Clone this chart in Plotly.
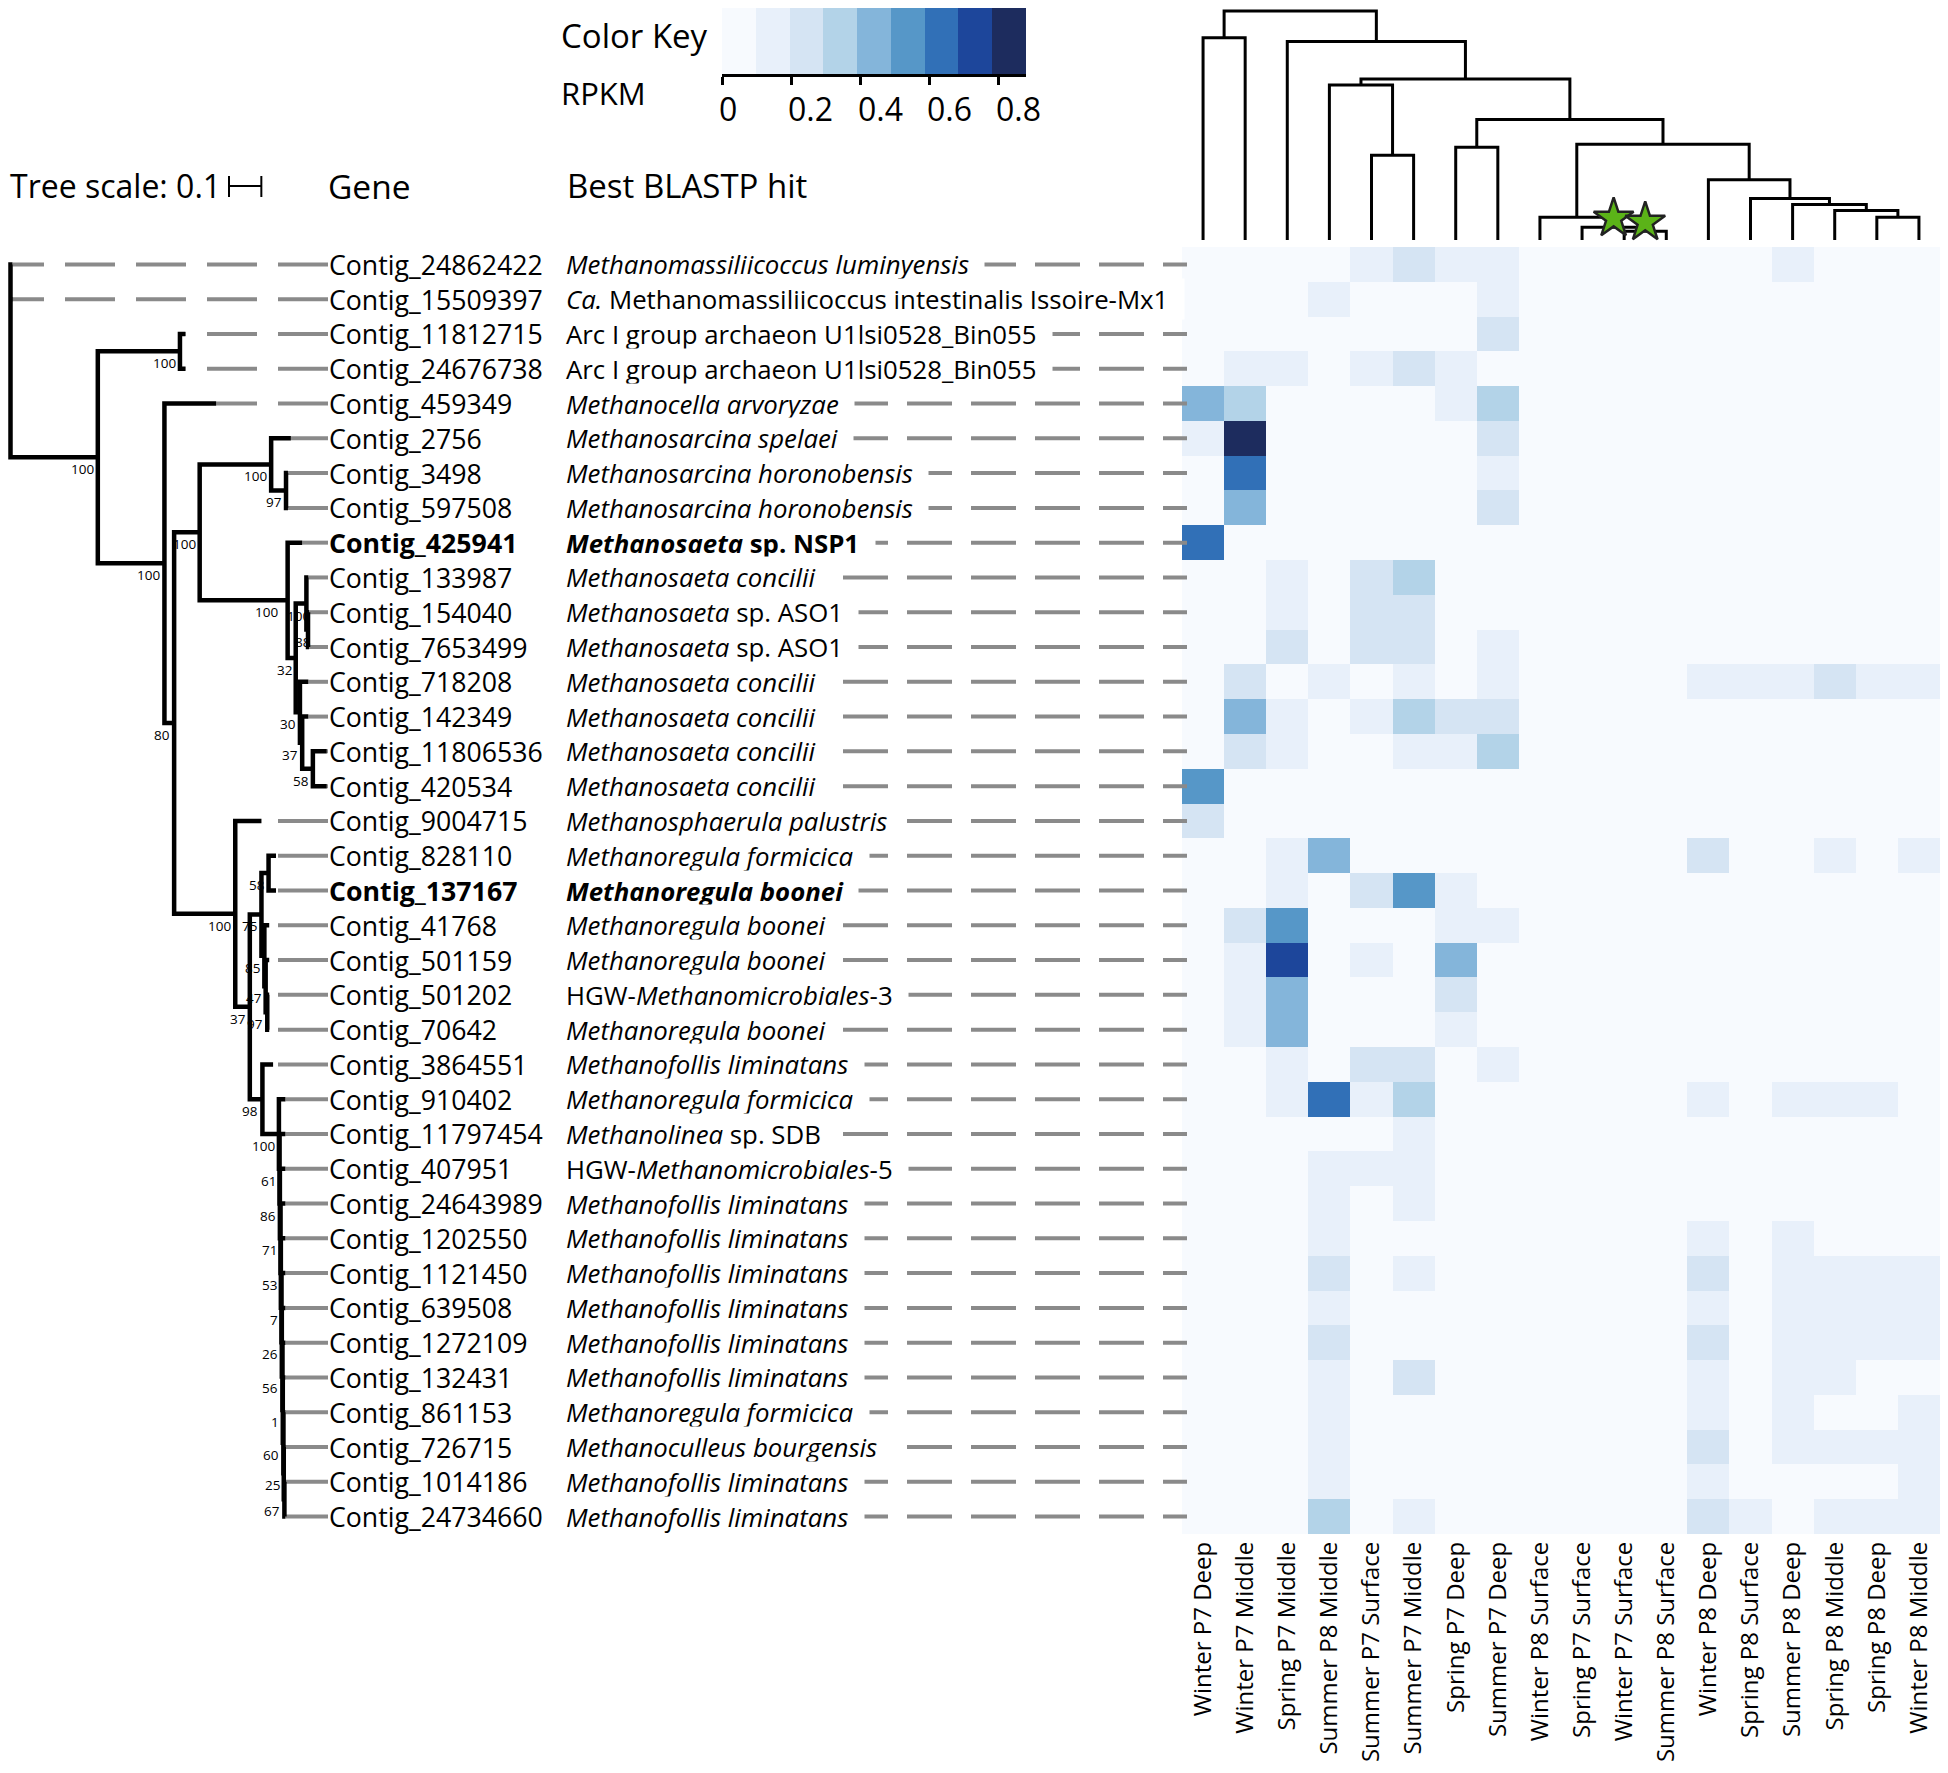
import plotly.graph_objects as go

# page has an 8px body margin -> figure is 16px smaller than the window
OFF = 8
FW, FH = 1932, 1757
FONT = "Open Sans"

# ---------------- data ----------------
samples = ["Winter P7 Deep", "Winter P7 Middle", "Spring P7 Middle", "Summer P8 Middle",
           "Summer P7 Surface", "Summer P7 Middle", "Spring P7 Deep", "Summer P7 Deep",
           "Winter P8 Surface", "Spring P7 Surface", "Winter P7 Surface", "Summer P8 Surface",
           "Winter P8 Deep", "Spring P8 Surface", "Summer P8 Deep", "Spring P8 Middle",
           "Spring P8 Deep", "Winter P8 Middle"]

genes = ["Contig_24862422", "Contig_15509397", "Contig_11812715", "Contig_24676738",
         "Contig_459349", "Contig_2756", "Contig_3498", "Contig_597508", "Contig_425941",
         "Contig_133987", "Contig_154040", "Contig_7653499", "Contig_718208", "Contig_142349",
         "Contig_11806536", "Contig_420534", "Contig_9004715", "Contig_828110", "Contig_137167",
         "Contig_41768", "Contig_501159", "Contig_501202", "Contig_70642", "Contig_3864551",
         "Contig_910402", "Contig_11797454", "Contig_407951", "Contig_24643989", "Contig_1202550",
         "Contig_1121450", "Contig_639508", "Contig_1272109", "Contig_132431", "Contig_861153",
         "Contig_726715", "Contig_1014186", "Contig_24734660"]

best_hits = ["<i>Methanomassiliicoccus luminyensis</i>",
             "<i>Ca.</i> Methanomassiliicoccus intestinalis Issoire-Mx1",
             "Arc I group archaeon U1lsi0528_Bin055",
             "Arc I group archaeon U1lsi0528_Bin055",
             "<i>Methanocella arvoryzae</i>",
             "<i>Methanosarcina spelaei</i>",
             "<i>Methanosarcina horonobensis</i>",
             "<i>Methanosarcina horonobensis</i>",
             "<i>Methanosaeta</i> sp. NSP1",
             "<i>Methanosaeta concilii</i>",
             "<i>Methanosaeta</i> sp. ASO1",
             "<i>Methanosaeta</i> sp. ASO1",
             "<i>Methanosaeta concilii</i>",
             "<i>Methanosaeta concilii</i>",
             "<i>Methanosaeta concilii</i>",
             "<i>Methanosaeta concilii</i>",
             "<i>Methanosphaerula palustris</i>",
             "<i>Methanoregula formicica</i>",
             "<i>Methanoregula boonei</i>",
             "<i>Methanoregula boonei</i>",
             "<i>Methanoregula boonei</i>",
             "HGW-<i>Methanomicrobiales</i>-3",
             "<i>Methanoregula boonei</i>",
             "<i>Methanofollis liminatans</i>",
             "<i>Methanoregula formicica</i>",
             "<i>Methanolinea</i> sp. SDB",
             "HGW-<i>Methanomicrobiales</i>-5",
             "<i>Methanofollis liminatans</i>",
             "<i>Methanofollis liminatans</i>",
             "<i>Methanofollis liminatans</i>",
             "<i>Methanofollis liminatans</i>",
             "<i>Methanofollis liminatans</i>",
             "<i>Methanofollis liminatans</i>",
             "<i>Methanoregula formicica</i>",
             "<i>Methanoculleus bourgensis</i>",
             "<i>Methanofollis liminatans</i>",
             "<i>Methanofollis liminatans</i>"]

bold_genes = ["Contig_425941", "Contig_137167"]
no_leader_genes = ["Contig_15509397"]

# RPKM per gene (rows) x sample (columns)
rpkm = [
    [0, 0, 0, 0, .14, .24, .14, .14, 0, 0, 0, 0, 0, 0, .14, 0, 0, 0],
    [0, 0, 0, .14, 0, 0, 0, .14, 0, 0, 0, 0, 0, 0, 0, 0, 0, 0],
    [0, 0, 0, 0, 0, 0, 0, .24, 0, 0, 0, 0, 0, 0, 0, 0, 0, 0],
    [0, .14, .14, 0, .14, .24, .14, 0, 0, 0, 0, 0, 0, 0, 0, 0, 0, 0],
    [.44, .34, 0, 0, 0, 0, .14, .34, 0, 0, 0, 0, 0, 0, 0, 0, 0, 0],
    [.14, .83, 0, 0, 0, 0, 0, .24, 0, 0, 0, 0, 0, 0, 0, 0, 0, 0],
    [0, .63, 0, 0, 0, 0, 0, .14, 0, 0, 0, 0, 0, 0, 0, 0, 0, 0],
    [0, .44, 0, 0, 0, 0, 0, .24, 0, 0, 0, 0, 0, 0, 0, 0, 0, 0],
    [.63, 0, 0, 0, 0, 0, 0, 0, 0, 0, 0, 0, 0, 0, 0, 0, 0, 0],
    [0, 0, .14, 0, .24, .34, 0, 0, 0, 0, 0, 0, 0, 0, 0, 0, 0, 0],
    [0, 0, .14, 0, .24, .24, 0, 0, 0, 0, 0, 0, 0, 0, 0, 0, 0, 0],
    [0, 0, .24, 0, .24, .24, 0, .14, 0, 0, 0, 0, 0, 0, 0, 0, 0, 0],
    [0, .24, 0, .14, 0, .14, 0, .14, 0, 0, 0, 0, .14, .14, .14, .24, .14, .14],
    [0, .44, .14, 0, .14, .34, .24, .24, 0, 0, 0, 0, 0, 0, 0, 0, 0, 0],
    [0, .24, .14, 0, 0, .14, .14, .34, 0, 0, 0, 0, 0, 0, 0, 0, 0, 0],
    [.54, 0, 0, 0, 0, 0, 0, 0, 0, 0, 0, 0, 0, 0, 0, 0, 0, 0],
    [.24, 0, 0, 0, 0, 0, 0, 0, 0, 0, 0, 0, 0, 0, 0, 0, 0, 0],
    [0, 0, .14, .44, 0, 0, 0, 0, 0, 0, 0, 0, .24, 0, 0, .14, 0, .14],
    [0, 0, .14, 0, .24, .54, .14, 0, 0, 0, 0, 0, 0, 0, 0, 0, 0, 0],
    [0, .24, .54, 0, 0, 0, .14, .14, 0, 0, 0, 0, 0, 0, 0, 0, 0, 0],
    [0, .14, .73, 0, .14, 0, .44, 0, 0, 0, 0, 0, 0, 0, 0, 0, 0, 0],
    [0, .14, .44, 0, 0, 0, .24, 0, 0, 0, 0, 0, 0, 0, 0, 0, 0, 0],
    [0, .14, .44, 0, 0, 0, .14, 0, 0, 0, 0, 0, 0, 0, 0, 0, 0, 0],
    [0, 0, .14, 0, .24, .24, 0, .14, 0, 0, 0, 0, 0, 0, 0, 0, 0, 0],
    [0, 0, .14, .63, .14, .34, 0, 0, 0, 0, 0, 0, .14, 0, .14, .14, .14, 0],
    [0, 0, 0, 0, 0, .14, 0, 0, 0, 0, 0, 0, 0, 0, 0, 0, 0, 0],
    [0, 0, 0, .14, .14, .14, 0, 0, 0, 0, 0, 0, 0, 0, 0, 0, 0, 0],
    [0, 0, 0, .14, 0, .14, 0, 0, 0, 0, 0, 0, 0, 0, 0, 0, 0, 0],
    [0, 0, 0, .14, 0, 0, 0, 0, 0, 0, 0, 0, .14, 0, .14, 0, 0, 0],
    [0, 0, 0, .24, 0, .14, 0, 0, 0, 0, 0, 0, .24, 0, .14, .14, .14, .14],
    [0, 0, 0, .14, 0, 0, 0, 0, 0, 0, 0, 0, .14, 0, .14, .14, .14, .14],
    [0, 0, 0, .24, 0, 0, 0, 0, 0, 0, 0, 0, .24, 0, .14, .14, .14, .14],
    [0, 0, 0, .14, 0, .24, 0, 0, 0, 0, 0, 0, .14, 0, .14, .14, 0, 0],
    [0, 0, 0, .14, 0, 0, 0, 0, 0, 0, 0, 0, .14, 0, .14, 0, 0, .14],
    [0, 0, 0, .14, 0, 0, 0, 0, 0, 0, 0, 0, .24, 0, .14, .14, .14, .14],
    [0, 0, 0, .14, 0, 0, 0, 0, 0, 0, 0, 0, .14, 0, 0, 0, 0, .14],
    [0, 0, 0, .34, 0, .14, 0, 0, 0, 0, 0, 0, .24, .14, 0, .14, .14, .14],
]

# colour key
key_max = 0.878
key_colors = ["#F7FAFE", "#E8F0FA", "#D5E4F3", "#B3D3E8", "#84B5DA",
              "#5697C8", "#3170B7", "#1D469B", "#1D2C5E"]
key_ticks = [0, 0.2, 0.4, 0.6, 0.8]
key_ticktext = ["0", "0.2", "0.4", "0.6", "0.8"]

# phylogenetic tree: tip depth (tree units) per gene row
tip_depth = [0.006, 0.006, 0.541, 0.541, 0.636, 0.867, 0.858, 0.858, 0.902, 0.921,
             0.923, 0.923, 0.921, 0.921, 0.978, 0.978, 0.776, 0.821, 0.821, 0.800,
             0.800, 0.800, 0.800, 0.812, 0.850, 0.850, 0.850, 0.850, 0.850, 0.850,
             0.850, 0.850, 0.850, 0.850, 0.850, 0.850, 0.850]
# internal nodes: (name, depth, children (row index or node name), support)
tree_nodes = [
    ("root", 0.000, [0, 1, "X"], None),
    ("X", 0.270, ["Y", "Z"], 100),
    ("Y", 0.524, [2, 3], 100),
    ("Z", 0.476, [4, "W"], 100),
    ("W", 0.506, ["V", "U"], 80),
    ("V", 0.585, ["T", "S"], 100),
    ("T", 0.806, [5, "Q"], 100),
    ("Q", 0.852, [6, 7], 97),
    ("S", 0.857, [8, "P"], 100),
    ("P", 0.882, ["O", "N"], 32),
    ("O", 0.915, [9, "O2"], 100),
    ("O2", 0.920, [10, 11], 88),
    ("N", 0.895, [12, "L"], 30),
    ("L", 0.902, [13, "K"], 37),
    ("K", 0.935, [14, 15], 58),
    ("U", 0.695, [16, "Tn"], 100),
    ("Tn", 0.740, ["Mn", "R2"], 37),
    ("Mn", 0.776, ["J2", "I2"], 75),
    ("J2", 0.798, [17, 18], 58),
    ("I2", 0.785, [19, "H2"], 85),
    ("H2", 0.789, [20, "G2"], 47),
    ("G2", 0.794, [21, 22], 97),
    ("R2", 0.779, [23, "C1"], 98),
    ("C1", 0.830, [24, "C2"], 100),
    ("C2", 0.832, [25, "C3"], 61),
    ("C3", 0.833, [26, "C4"], 86),
    ("C4", 0.835, [27, "C5"], 71),
    ("C5", 0.836, [28, "C6"], 53),
    ("C6", 0.838, [29, "C7"], 7),
    ("C7", 0.839, [30, "C8"], 26),
    ("C8", 0.841, [31, "C9"], 56),
    ("C9", 0.842, [32, "C10"], 1),
    ("C10", 0.844, [33, "C11"], 60),
    ("C11", 0.845, [34, "C12"], 25),
    ("C12", 0.847, [35, 36], 67),
]
tree_scale = 0.1

# sample dendrogram: (name, left, right, height)
dendro_merges = [
    ("A", 0, 1, 205), ("B", 4, 5, 86), ("C", 3, "B", 157), ("D", 6, 7, 94),
    ("E", 10, 11, 9), ("F", 9, "E", 13), ("G", 8, "F", 23), ("H", 16, 17, 23),
    ("I", 15, "H", 30), ("J", 14, "I", 36), ("K", 13, "J", 42), ("L", 12, "K", 61),
    ("M", "G", "L", 97), ("N", "D", "M", 122), ("O", "C", "N", 163),
    ("P", 2, "O", 201), ("R", "A", "P", 232),
]
starred_nodes = ["F", "E"]

# ---------------- layout geometry (window pixels) ----------------
def px_x(p):
    return min(max((p - OFF) / FW, 0.0), 1.0)

def px_y(p):
    return min(max(1 - (p - OFF) / FH, 0.0), 1.0)

HM_L, HM_T, HM_B = 1182, 247, 1534
TREE_R = 328            # label start
TREE_ORIGIN = 10.5      # root position
HIT_L = 566
n_rows, n_cols = len(genes), len(samples)
label_u = 0.9818
TREE_PPU = (TREE_R - TREE_ORIGIN) / label_u
# crowded support labels sit on top of their node as in the reference
support_shift = {"S": -6, "O": 8, "O2": 7}

fig = go.Figure()

# discrete colour scale
nb = len(key_colors)
cs = []
for k, c in enumerate(key_colors):
    cs.append([k / nb, c])
    cs.append([(k + 1) / nb, c])

# heatmap
fig.add_trace(go.Heatmap(z=rpkm, x=list(range(n_cols)), y=list(range(n_rows)),
                         colorscale=cs, zmin=0, zmax=key_max, showscale=False,
                         xaxis="x", yaxis="y", hoverinfo="skip"))

# colour key
step = key_max / nb
key_centers = [step * (k + 0.5) for k in range(nb)]
fig.add_trace(go.Heatmap(z=[key_centers], x=key_centers, y=[0.5], colorscale=cs,
                         zmin=0, zmax=key_max, showscale=False, xaxis="x4", yaxis="y4",
                         hoverinfo="skip"))

# ---------------- tree ----------------
node_map = {n[0]: n for n in tree_nodes}

def ny(c):
    if isinstance(c, int):
        return c
    ch = node_map[c][2]
    return (ny(ch[0]) + ny(ch[-1])) / 2

def nx(c):
    return tip_depth[c] if isinstance(c, int) else node_map[c][1]

bx, by = [], []
for name, d, ch, sup in tree_nodes:
    f, l = ch[0], ch[-1]
    bx += [nx(f), d, d, nx(l), None]
    by += [ny(f), ny(f), ny(l), ny(l), None]
    for m in ch[1:-1]:
        bx += [d, nx(m), None]
        by += [ny(m), ny(m), None]

gx, gy = [], []
for i in range(n_rows):
    gx += [label_u, tip_depth[i], None]
    gy += [i, i, None]

fig.add_trace(go.Scatter(x=gx, y=gy, mode="lines", xaxis="x2", yaxis="y",
                         line=dict(color="#8a8a8a", width=4, dash="50px,21px", simplify=False),
                         hoverinfo="skip"))
fig.add_trace(go.Scatter(x=bx, y=by, mode="lines", xaxis="x2", yaxis="y",
                         line=dict(color="black", width=4.5, simplify=False),
                         hoverinfo="skip"))

annotations = []
for name, d, ch, sup in tree_nodes:
    if sup is None:
        continue
    annotations.append(dict(x=d, y=ny(name), xref="x2", yref="y", text=str(sup),
                            showarrow=False, xanchor="right", yanchor="top", borderpad=0,
                            xshift=-3 + support_shift.get(name, 0), yshift=-2,
                            font=dict(family=FONT, size=13.5, color="black")))

# tree scale bar
sb_x0 = (229 - TREE_ORIGIN) / TREE_PPU
shapes = [
    dict(type="line", xref="x2", yref="paper", x0=sb_x0, x1=sb_x0 + tree_scale,
         y0=px_y(186), y1=px_y(186), line=dict(color="black", width=2)),
    dict(type="line", xref="x2", yref="paper", x0=sb_x0, x1=sb_x0, y0=px_y(176), y1=px_y(197),
         line=dict(color="black", width=2)),
    dict(type="line", xref="x2", yref="paper", x0=sb_x0 + tree_scale, x1=sb_x0 + tree_scale,
         y0=px_y(176), y1=px_y(197), line=dict(color="black", width=2)),
]

# leaders from best hit to heatmap (right-anchored dashes)
hit_dash = "24px,19px," + ",".join(["45px,19px"] * 16)
for i, g in enumerate(genes):
    if g in no_leader_genes:
        continue
    shapes.append(dict(type="line", xref="paper", yref="y", x0=px_x(HM_L + 5), x1=px_x(HIT_L + 10),
                       y0=i, y1=i, layer="above",
                       line=dict(color="#8a8a8a", width=4, dash=hit_dash)))

# ---------------- dendrogram ----------------
dn = {}

def dpos(c):
    if isinstance(c, int):
        return c, 0
    return dn[c]

dx, dy = [], []
for name, a, b, h in dendro_merges:
    ax_, ah = dpos(a)
    bx_, bh = dpos(b)
    dn[name] = ((ax_ + bx_) / 2, h)
    dx += [ax_, ax_, bx_, bx_, None]
    dy += [ah, h, h, bh, None]

fig.add_trace(go.Scatter(x=dx, y=dy, mode="lines", xaxis="x", yaxis="y3",
                         line=dict(color="black", width=3, simplify=False), hoverinfo="skip"))
fig.add_trace(go.Scatter(x=[dn[s][0] for s in starred_nodes],
                         y=[dn[s][1] + 9 for s in starred_nodes],
                         mode="markers", xaxis="x", yaxis="y3", cliponaxis=False,
                         marker=dict(symbol="star", size=30, color="#5BB318",
                                     line=dict(color="#222222", width=2.5)),
                         hoverinfo="skip"))

# ---------------- text ----------------
HIT_PAD = 2
TRAIL = "\u00a0\u00a0"   # white gap between the hit text and its dashed leader
for i, (g, hit) in enumerate(zip(genes, best_hits)):
    bold = g in bold_genes
    annotations.append(dict(x=px_x(TREE_R), y=i, xref="paper", yref="y",
                            text=f"<b>{g}</b>" if bold else g, showarrow=False,
                            xanchor="left", yanchor="middle", borderpad=0,
                            font=dict(family=FONT, size=26.7, color="black")))
    htxt = (f"<b>{hit}</b>" if bold else hit) + TRAIL
    annotations.append(dict(x=px_x(HIT_L - HIT_PAD - 1), y=i, xref="paper", yref="y",
                            text=htxt, showarrow=False,
                            xanchor="left", yanchor="middle", bgcolor="white", borderpad=HIT_PAD,
                            font=dict(family=FONT, size=25.8, color="black")))

headers = [("Tree scale: 0.1", 4, 186, 32), ("Gene", 326, 186, 33.5),
           ("Best BLASTP hit", 565, 186, 33), ("Color Key", 559, 36, 33), ("RPKM", 559, 93, 31)]
for t, x, y, s in headers:
    annotations.append(dict(x=px_x(x), y=px_y(y), xref="paper", yref="paper", text=t,
                            showarrow=False, xanchor="left", yanchor="middle",
                            font=dict(family=FONT, size=s, color="black")))

# colour-key labels (left aligned at their ticks as in the reference)
for v, t in zip(key_ticks, key_ticktext):
    annotations.append(dict(x=v, y=px_y(108), xref="x4", yref="paper", text=t,
                            showarrow=False, xanchor="left", yanchor="middle", xshift=-5,
                            font=dict(family=FONT, size=32, color="black")))

fig.update_layout(
    width=FW, height=FH, margin=dict(l=0, r=0, t=0, b=0, autoexpand=False),
    paper_bgcolor="white", plot_bgcolor="white", showlegend=False,
    xaxis=dict(domain=[px_x(HM_L), 1.0], range=[-0.5, n_cols - 0.5], anchor="y",
               tickmode="array", tickvals=list(range(n_cols)), ticktext=samples,
               tickangle=-90, ticks="", ticklabelstandoff=2, showgrid=False, zeroline=False,
               showline=False, automargin=False,
               tickfont=dict(family=FONT, size=24, color="black")),
    yaxis=dict(domain=[px_y(HM_B), px_y(HM_T)], range=[n_rows - 0.5, -0.5], anchor="x",
               visible=False, automargin=False),
    xaxis2=dict(domain=[0, px_x(TREE_R)], automargin=False,
                range=[-(TREE_ORIGIN - OFF) / TREE_PPU, label_u], anchor="y", visible=False),
    yaxis3=dict(domain=[px_y(246), 1.0], range=[-6, 235], anchor="x", visible=False,
                automargin=False),
    xaxis4=dict(domain=[px_x(722), px_x(1026)], range=[0, key_max], anchor="y4",
                tickmode="array", tickvals=key_ticks, showticklabels=False, automargin=False,
                ticks="outside", ticklen=8, tickwidth=3, tickcolor="black",
                showline=True, linewidth=3, linecolor="black", showgrid=False, zeroline=False),
    yaxis4=dict(domain=[px_y(74), 1.0], range=[0, 1], anchor="x4", visible=False,
                automargin=False),
    annotations=annotations, shapes=shapes,
)

fig.write_html("out.html", config={"displayModeBar": False})
